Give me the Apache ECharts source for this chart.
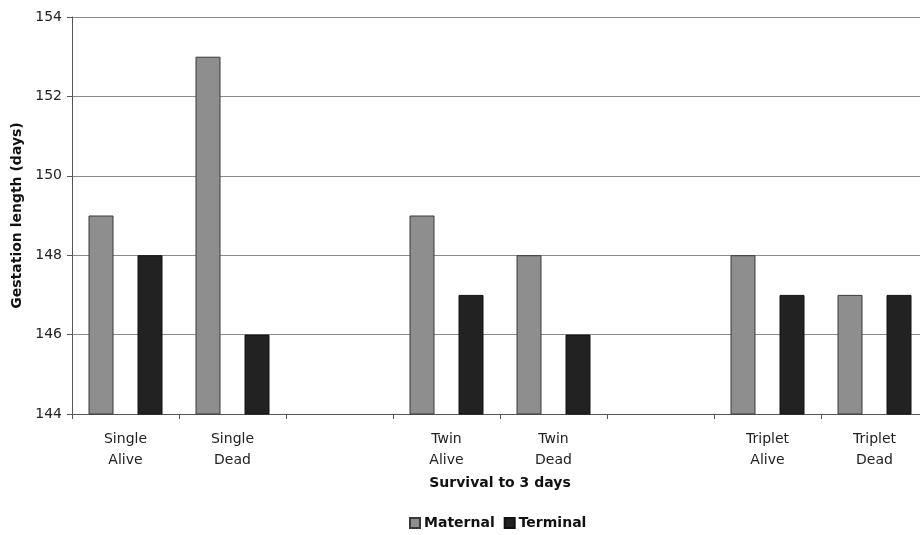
<!DOCTYPE html>
<html><head><meta charset="utf-8">
<script src="https://cdn.jsdelivr.net/npm/echarts@6/dist/echarts.min.js"></script>
<style>html,body{margin:0;padding:0;overflow:hidden;background:#fff}#c{width:928px;height:535px}</style>
</head><body><div id="c"></div>
<script>
const categories = ['Single\nAlive', 'Single\nDead', '', 'Twin\nAlive', 'Twin\nDead', '', 'Triplet\nAlive', 'Triplet\nDead'];
const maternal = [149, 153, null, 149, 148, null, 148, 147];
const terminal = [148, 146, null, 147, 146, null, 147, 147];
const seriesNames = ['Maternal', 'Terminal'];

const font = 'DejaVu Sans, Verdana, sans-serif';
const chart = echarts.init(document.getElementById('c'), null, {renderer: 'canvas'});
chart.setOption({
  animation: false,
  backgroundColor: '#fff',
  grid: {left: 72, right: 0, top: 17, bottom: 121, containLabel: false},
  legend: {
    data: seriesNames, bottom: 0, left: 404, itemWidth: 10, itemHeight: 10, itemGap: 9,
    icon: 'rect',
    textStyle: {fontFamily: font, fontSize: 14, fontWeight: 'bold', color: '#111', padding: [0, 0, 0, -1]}
  },
  xAxis: {
    type: 'category', data: categories,
    name: 'Survival to 3 days', nameLocation: 'middle', nameGap: 62,
    nameTextStyle: {fontFamily: font, fontSize: 14, fontWeight: 'bold', color: '#111'},
    axisLine: {lineStyle: {color: '#555', width: 1}},
    axisTick: {show: true, length: 5, lineStyle: {color: '#555'}},
    axisLabel: {fontFamily: font, fontSize: 14, color: '#222', lineHeight: 21, margin: 15, interval: 0}
  },
  yAxis: {
    type: 'value', min: 144, max: 154, interval: 2,
    name: 'Gestation length (days)', nameLocation: 'middle', nameGap: 47, nameRotate: 90,
    nameTextStyle: {fontFamily: font, fontSize: 14, fontWeight: 'bold', color: '#111'},
    axisLine: {show: true, lineStyle: {color: '#555', width: 1}},
    axisTick: {show: true, length: 5, lineStyle: {color: '#555'}},
    axisLabel: {fontFamily: font, fontSize: 14, color: '#222', margin: 10},
    splitLine: {lineStyle: {color: '#8a8a8a', width: 1}}
  },
  series: [
    {name: seriesNames[0], type: 'bar', data: maternal, barWidth: 25, barGap: '96%',
     itemStyle: {color: '#8e8e8e', borderColor: '#3a3a3a', borderWidth: 1}},
    {name: seriesNames[1], type: 'bar', data: terminal, barWidth: 25, barGap: '96%',
     itemStyle: {color: '#222222', borderColor: '#111', borderWidth: 1}}
  ]
});
</script></body></html>
